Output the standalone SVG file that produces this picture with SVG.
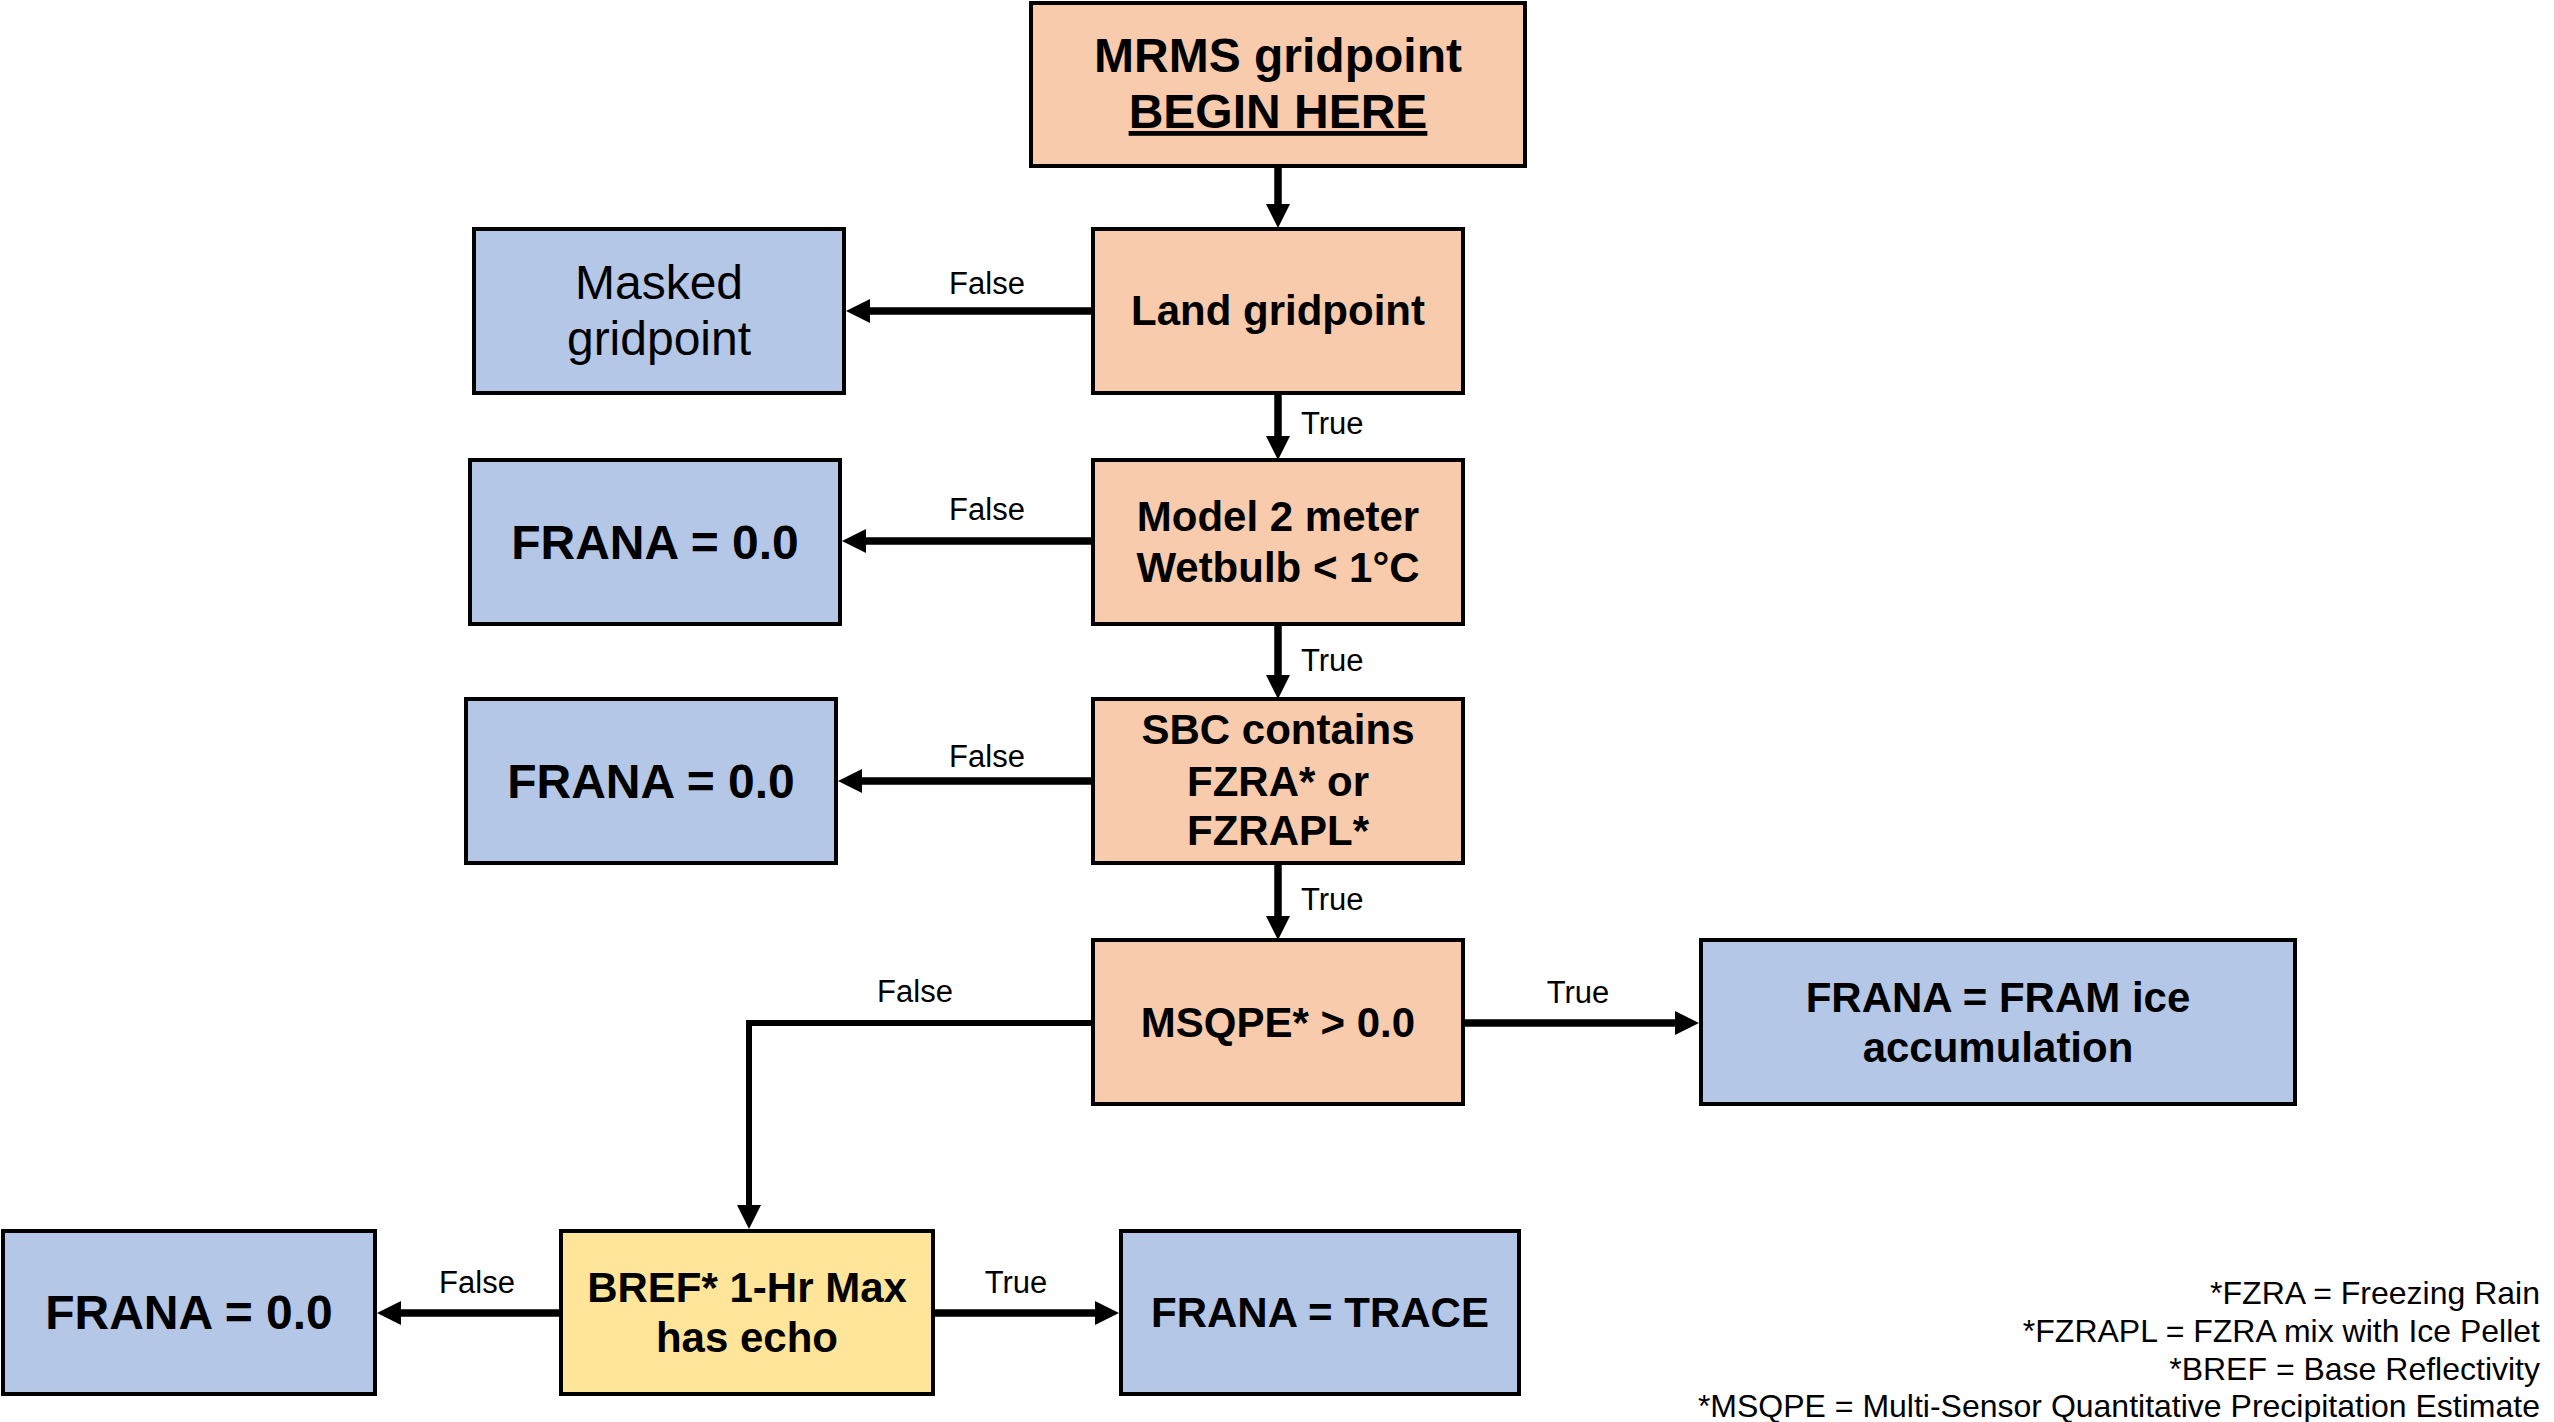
<svg xmlns="http://www.w3.org/2000/svg" width="2554" height="1422" viewBox="0 0 2554 1422">
<defs>
<style>
.box{stroke:#000;stroke-width:4}
.peach{fill:#f7cbac}
.blue{fill:#b4c7e7}
.yellow{fill:#fee599}
.t{font-family:"Liberation Sans",Arial,Helvetica,sans-serif;fill:#000;text-anchor:middle}
.b42{font-size:42px;font-weight:bold}
.b48{font-size:48px;font-weight:bold}
.r48{font-size:48px}
.lbl{font-family:"Liberation Sans",Arial,Helvetica,sans-serif;font-size:31px;fill:#000;text-anchor:middle}
.lblL{font-family:"Liberation Sans",Arial,Helvetica,sans-serif;font-size:31px;fill:#000}
.note{font-family:"Liberation Sans",Arial,Helvetica,sans-serif;font-size:32px;fill:#000;text-anchor:end}
.c{fill:none;stroke:#000;stroke-width:7.5;marker-end:url(#ah)}
.c2{fill:none;stroke:#000;stroke-width:6;marker-end:url(#ah)}
</style>
<marker id="ah" markerUnits="userSpaceOnUse" markerWidth="24" markerHeight="24" viewBox="0 0 24 24" refX="0" refY="12" orient="auto">
<path d="M0,0 L24,12 L0,24 z" fill="#000"/>
</marker>
</defs>
<rect width="2554" height="1422" fill="#fff"/>

<g id="connectors">
<line class="c" x1="1278" y1="166" x2="1278" y2="204"/>
<line class="c" x1="1093" y1="311" x2="870" y2="311"/>
<line class="c" x1="1278" y1="393" x2="1278" y2="436"/>
<line class="c" x1="1093" y1="541" x2="866" y2="541"/>
<line class="c" x1="1278" y1="624" x2="1278" y2="675"/>
<line class="c" x1="1093" y1="781" x2="862" y2="781"/>
<line class="c" x1="1278" y1="863" x2="1278" y2="916"/>
<line class="c" x1="1463" y1="1023" x2="1675" y2="1023"/>
<path class="c2" d="M1093,1023 H749 V1205"/>
<line class="c" x1="561" y1="1313" x2="401" y2="1313"/>
<line class="c" x1="933" y1="1313" x2="1095" y2="1313"/>
<text class="lbl" x="987" y="294">False</text>
<text class="lbl" x="987" y="520">False</text>
<text class="lbl" x="987" y="767">False</text>
<text class="lblL" x="1301" y="434">True</text>
<text class="lblL" x="1301" y="671">True</text>
<text class="lblL" x="1301" y="910">True</text>
<text class="lbl" x="915" y="1002">False</text>
<text class="lbl" x="1578" y="1003">True</text>
<text class="lbl" x="477" y="1293">False</text>
<text class="lbl" x="1016" y="1293">True</text>
</g>

<g id="mrms">
<rect class="box peach" x="1031" y="3" width="494" height="163"/>
<text class="t b48" x="1278" y="72">MRMS gridpoint</text>
<text class="t b48" x="1278" y="128" text-decoration="underline">BEGIN HERE</text>
</g>

<g id="land">
<rect class="box peach" x="1093" y="229" width="370" height="164"/>
<text class="t b42" x="1278" y="325">Land gridpoint</text>
</g>

<g id="masked">
<rect class="box blue" x="474" y="229" width="370" height="164"/>
<text class="t r48" x="659" y="299">Masked</text>
<text class="t r48" x="659" y="355">gridpoint</text>
</g>

<g id="model">
<rect class="box peach" x="1093" y="460" width="370" height="164"/>
<text class="t b42" x="1278" y="531">Model 2 meter</text>
<text class="t b42" x="1278" y="582">Wetbulb &lt; 1°C</text>
</g>

<g id="frana1">
<rect class="box blue" x="470" y="460" width="370" height="164"/>
<text class="t b48" x="655" y="559">FRANA = 0.0</text>
</g>

<g id="sbc">
<rect class="box peach" x="1093" y="699" width="370" height="164"/>
<text class="t b42" x="1278" y="744">SBC contains</text>
<text class="t b42" x="1278" y="796">FZRA* or</text>
<text class="t b42" x="1278" y="845">FZRAPL*</text>
</g>

<g id="frana2">
<rect class="box blue" x="466" y="699" width="370" height="164"/>
<text class="t b48" x="651" y="798">FRANA = 0.0</text>
</g>

<g id="msqpe">
<rect class="box peach" x="1093" y="940" width="370" height="164"/>
<text class="t b42" x="1278" y="1037">MSQPE* &gt; 0.0</text>
</g>

<g id="fram">
<rect class="box blue" x="1701" y="940" width="594" height="164"/>
<text class="t b42" x="1998" y="1012">FRANA = FRAM ice</text>
<text class="t b42" x="1998" y="1062">accumulation</text>
</g>

<g id="bref">
<rect class="box yellow" x="561" y="1231" width="372" height="163"/>
<text class="t b42" x="747" y="1302">BREF* 1-Hr Max</text>
<text class="t b42" x="747" y="1352">has echo</text>
</g>

<g id="trace">
<rect class="box blue" x="1121" y="1231" width="398" height="163"/>
<text class="t b42" x="1320" y="1327">FRANA = TRACE</text>
</g>

<g id="frana3">
<rect class="box blue" x="3" y="1231" width="372" height="163"/>
<text class="t b48" x="189" y="1329">FRANA = 0.0</text>
</g>

<g id="notes">
<text class="note" x="2540" y="1304">*FZRA = Freezing Rain</text>
<text class="note" x="2540" y="1342">*FZRAPL = FZRA mix with Ice Pellet</text>
<text class="note" x="2540" y="1380">*BREF = Base Reflectivity</text>
<text class="note" x="2540" y="1417">*MSQPE = Multi-Sensor Quantitative Precipitation Estimate</text>
</g>
</svg>
